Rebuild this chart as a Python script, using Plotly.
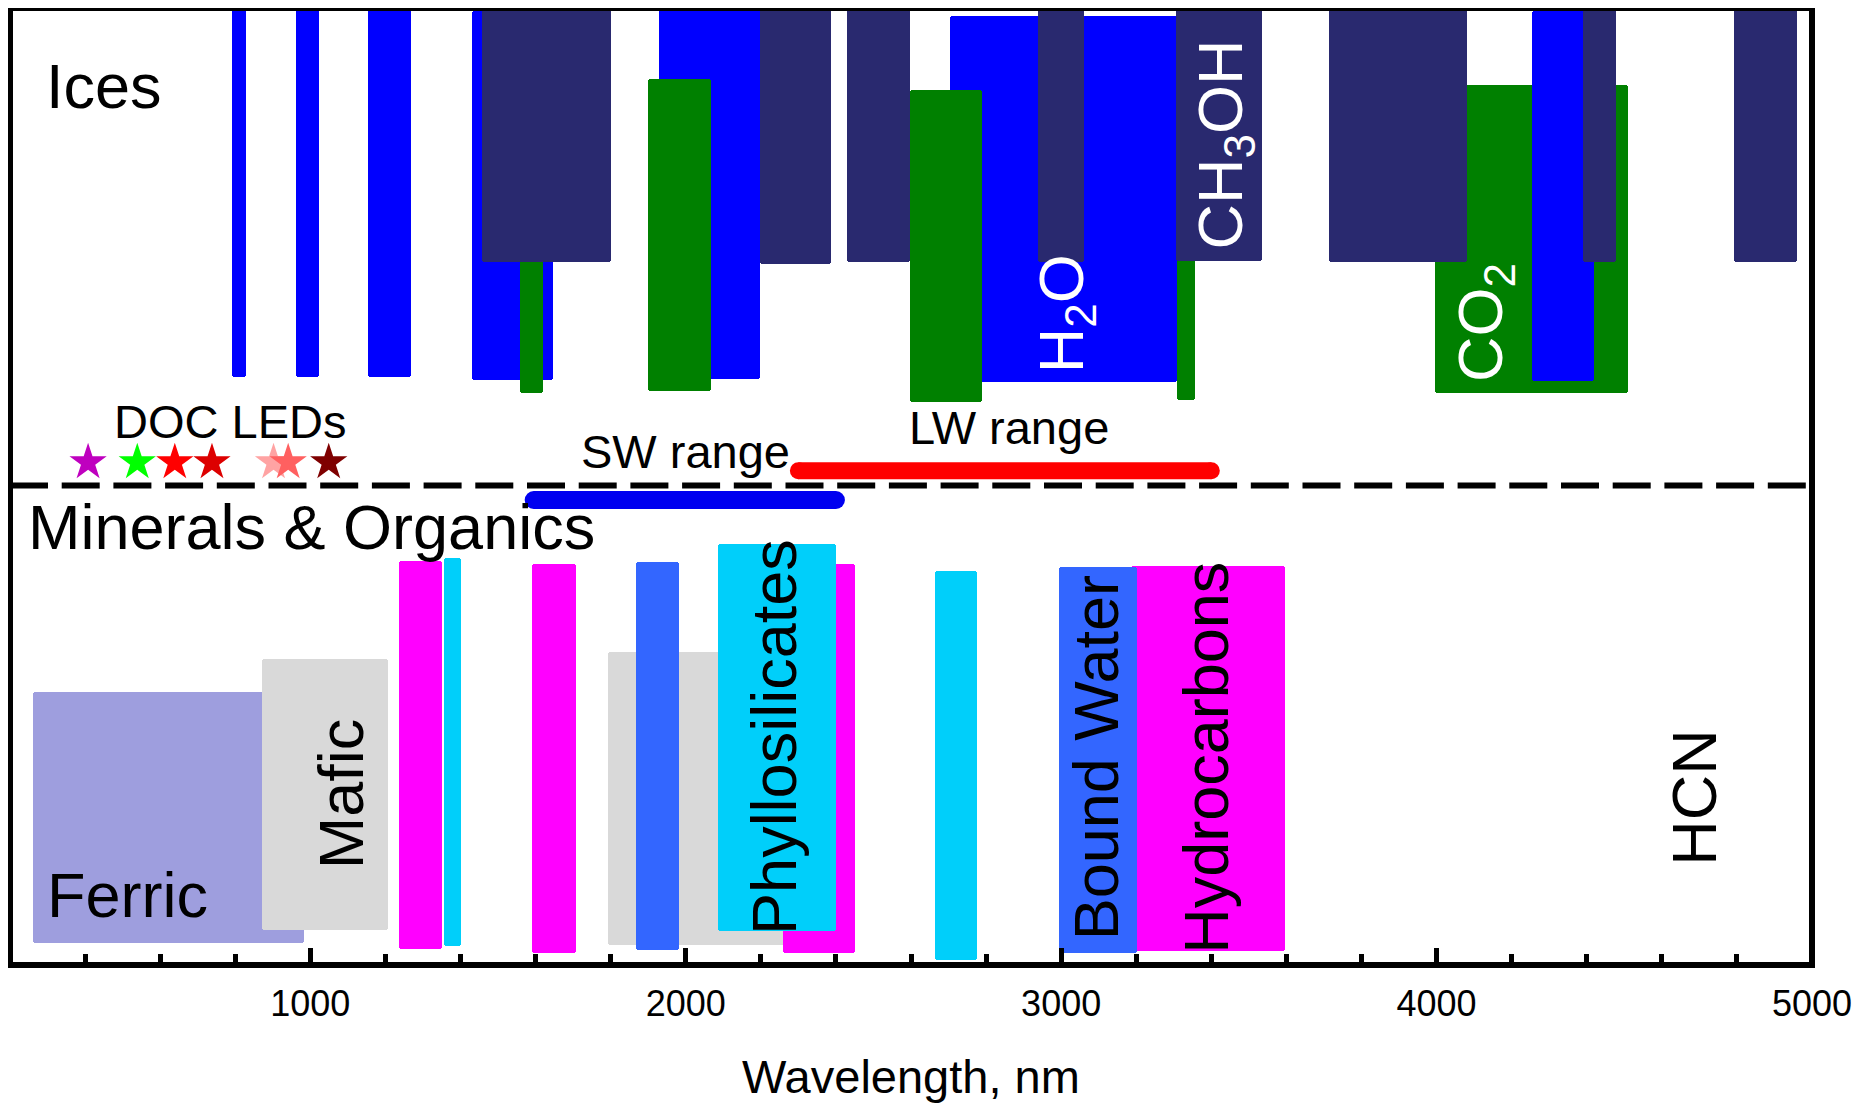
import plotly.graph_objects as go

# ---------------- data ----------------
# Ices: absorption bands (wavelength start/end in nm, vertical extent in panel units 0-100)
h2o_start = [791, 961, 1153, 1430, 1928, 2703, 4254]
h2o_end = [829, 1024, 1267, 1647, 2197, 3309, 4420]
h2o_bottom = [61.4, 61.4, 61.4, 61.1, 61.2, 60.85, 61.0]
h2o_top = [99.9, 99.9, 99.9, 99.6, 99.7, 99.06, 99.6]

co2_start = [1558, 1900, 2597, 3309, 3995]
co2_end = [1621, 2067, 2788, 3357, 4511]
co2_bottom = [59.7, 59.9, 58.8, 59.0, 59.7]
co2_top = [90.0, 92.5, 91.3, 90.0, 91.9]

ch3oh_start = [1457, 2197, 2430, 2937, 3305, 3713, 4389, 4792]
ch3oh_end = [1802, 2386, 2596, 3062, 3536, 4082, 4479, 4960]
ch3oh_bottom = [73.4, 73.2, 73.4, 73.4, 73.5, 73.4, 73.4, 73.4]
ch3oh_top = [100.0, 99.7, 100.0, 100.0, 99.7, 100.0, 100.0, 100.0]

# Minerals & organics bands
ferric_start = [262]
ferric_end = [982]
ferric_bottom = [2.27]
ferric_top = [28.53]

mafic_start = [871, 1794]
mafic_end = [1208, 2294]
mafic_bottom = [3.65, 2.09]
mafic_top = [31.91, 32.7]

hydrocarbon_start = [1235, 1591, 2258, 3185]
hydrocarbon_end = [1350, 1707, 2451, 3597]
hydrocarbon_bottom = [1.69, 1.28, 1.22, 1.41]
hydrocarbon_top = [42.19, 41.82, 41.86, 41.65]

phyllo_start = [1357, 2087, 2664]
phyllo_end = [1401, 2400, 2776]
phyllo_bottom = [1.94, 3.58, 0.57]
phyllo_top = [42.44, 43.91, 41.16]

boundwater_start = [1867, 2995]
boundwater_end = [1982, 3203]
boundwater_bottom = [1.57, 1.28]
boundwater_top = [42.1, 41.51]

# DOC LEDs (nm)
led_nm = [408, 539, 639, 738, 902, 941, 1049]
led_colors = ["#BF00BF", "#00FF00", "#FF0000", "#DD0000", "#FFA3A3", "#FF6060", "#7F0000"]

# Spectrometer ranges (nm)
sw_range = [1595, 2400]
lw_range = [2300, 3400]

x_ticks = [1000, 2000, 3000, 4000, 5000]

FONT = "Liberation Sans, Arial, Helvetica, sans-serif"

# page body adds an 8 px margin; figure is sized to fit the window
FIG_W, FIG_H = 1856, 1096
M_L, M_R, M_T, M_B = 2, 52, 0, 139
PLOT_H = FIG_H - M_T - M_B

# ---------------- figure ----------------
fig = go.Figure()


def band_trace(start, end, bottom, top, color):
    centers = [(a + b) / 2 for a, b in zip(start, end)]
    widths = [b - a for a, b in zip(start, end)]
    heights = [t - b for b, t in zip(bottom, top)]
    return go.Bar(
        x=centers, y=heights, base=bottom, width=widths,
        marker=dict(color=color, line=dict(width=0), cornerradius=3),
        hoverinfo="skip", showlegend=False,
    )


NAVY = "#29296F"
# Ices (layer order as in the figure)
fig.add_trace(band_trace(h2o_start[:6], h2o_end[:6], h2o_bottom[:6], h2o_top[:6], "#0000FF"))
fig.add_trace(band_trace(co2_start, co2_end, co2_bottom, co2_top, "#008000"))
fig.add_trace(band_trace(h2o_start[6:], h2o_end[6:], h2o_bottom[6:], h2o_top[6:], "#0000FF"))
fig.add_trace(band_trace(ch3oh_start, ch3oh_end, ch3oh_bottom, ch3oh_top, NAVY))

# Minerals & organics
fig.add_trace(band_trace(ferric_start, ferric_end, ferric_bottom, ferric_top, "#9E9EDE"))
fig.add_trace(band_trace(mafic_start, mafic_end, mafic_bottom, mafic_top, "#D9D9D9"))
fig.add_trace(band_trace(hydrocarbon_start, hydrocarbon_end, hydrocarbon_bottom, hydrocarbon_top, "#FF00FF"))
fig.add_trace(band_trace(phyllo_start, phyllo_end, phyllo_bottom, phyllo_top, "#00CFFA"))
fig.add_trace(band_trace(boundwater_start, boundwater_end, boundwater_bottom, boundwater_top, "#3366FF"))

# dashed divider
fig.add_trace(go.Scatter(
    x=[200, 5000], y=[50.05, 50.05], mode="lines",
    line=dict(color="black", width=6, dash="38px,13.7px"),
    hoverinfo="skip", showlegend=False,
))

# SW / LW ranges (round ends via markers)
fig.add_trace(go.Scatter(
    x=sw_range, y=[48.54, 48.54], mode="lines+markers",
    line=dict(color="#0000F0", width=18),
    marker=dict(color="#0000F0", size=18, line=dict(width=0)),
    hoverinfo="skip", showlegend=False,
))
fig.add_trace(go.Scatter(
    x=lw_range, y=[51.59, 51.59], mode="lines+markers",
    line=dict(color="#FF0000", width=17),
    marker=dict(color="#FF0000", size=17, line=dict(width=0)),
    hoverinfo="skip", showlegend=False,
))

# LED stars
fig.add_trace(go.Scatter(
    x=led_nm, y=[52.47] * len(led_nm), mode="markers",
    marker=dict(symbol="star", size=28, color=led_colors, line=dict(width=0)),
    hoverinfo="skip", showlegend=False,
))


def label(text, x, y, size=63, color="black", angle=0):
    fig.add_annotation(
        x=x, y=y, xref="x", yref="y", text=text, showarrow=False,
        textangle=angle, xanchor="center", yanchor="middle",
        font=dict(family=FONT, size=size, color=color),
    )


label("Ices", 450, 91.8)
label("Minerals &amp; Organics", 1002, 45.7)
label("DOC LEDs", 787, 56.7, size=47)
label("SW range", 2000, 53.55, size=47)
label("LW range", 2860, 56.1, size=47)
label("Ferric", 512, 7.3)
label("Mafic", 1080, 17.87, angle=-90)
label("Phyllosilicates", 2233, 23.83, angle=-90)
label("Bound Water", 3092, 21.65, angle=-90)
label("Hydrocarbons", 3384, 21.66, angle=-90)
label("HCN", 4687, 17.5, angle=-90)
label("H<sub>2</sub>O", 3012, 68.0, color="white", angle=-90)
label("CH<sub>3</sub>OH", 3434, 85.65, color="white", angle=-90)
label("CO<sub>2</sub>", 4126, 67.1, color="white", angle=-90)

# axis title
fig.add_annotation(
    x=0.5, y=(PLOT_H - 1068) / PLOT_H, xref="paper", yref="paper",
    text="Wavelength, nm", showarrow=False, xanchor="center", yanchor="middle",
    font=dict(family=FONT, size=47, color="black"),
)

# plot frame
fig.add_shape(type="rect", xref="paper", yref="paper", x0=0, x1=1, y0=0, y1=1,
              line=dict(color="black", width=6), fillcolor="rgba(0,0,0,0)", layer="above")

fig.update_layout(
    width=FIG_W, height=FIG_H,
    margin=dict(l=M_L, r=M_R, t=M_T, b=M_B, pad=0, autoexpand=False),
    paper_bgcolor="white", plot_bgcolor="white",
    barmode="overlay", bargap=0, hovermode=False,
    showlegend=False,
    font=dict(family=FONT, color="black"),
)
fig.update_xaxes(
    range=[200, 5000], showgrid=False, zeroline=False, showline=False,
    tickmode="array", tickvals=x_ticks, ticktext=[str(v) for v in x_ticks],
    ticks="inside", ticklen=17, tickwidth=4.5, tickcolor="black",
    minor=dict(ticks="inside", dtick=200, tick0=0, ticklen=11, tickwidth=4.5, tickcolor="black"),
    tickfont=dict(family=FONT, size=36, color="black"),
    ticklabelstandoff=14, automargin=False,
)
fig.update_yaxes(
    range=[0, 100 - 1 / 9.58], showgrid=False, zeroline=False, showline=False,
    showticklabels=False, ticks="", automargin=False,
)

fig.write_html("out.html")
